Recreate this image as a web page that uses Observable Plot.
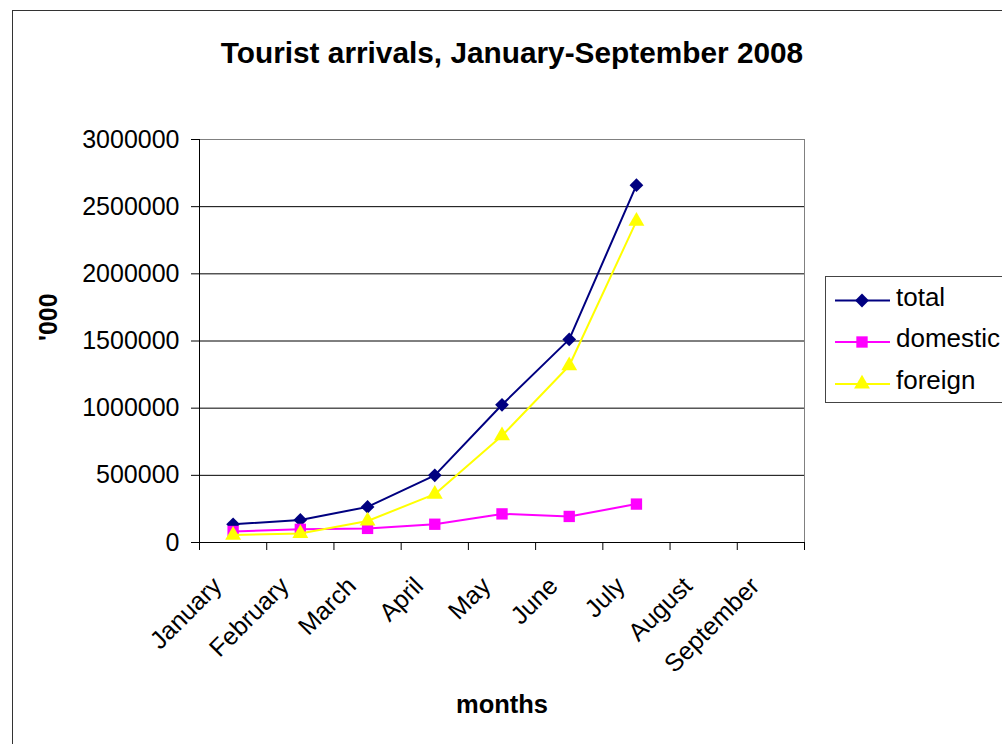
<!DOCTYPE html>
<html>
<head>
<meta charset="utf-8">
<script src="https://cdn.jsdelivr.net/npm/d3@7"></script>
<script src="https://cdn.jsdelivr.net/npm/@observablehq/plot@0.6"></script>
<style>
  html, body { margin: 0; padding: 0; background: #fff; overflow: hidden; }
  body { width: 1002px; height: 744px; position: relative; font-family: "Liberation Sans", Arial, sans-serif; }
  #frame { position: absolute; left: 12px; top: 10px; width: 1100px; height: 900px; border: 1px solid #333; box-sizing: border-box; }
  #chart { position: absolute; left: 0; top: 0; }
  #overlay { position: absolute; left: 0; top: 0; }
</style>
</head>
<body>
<div id="frame"></div>
<div id="chart"></div>
<svg id="overlay" width="1002" height="744"></svg>
<script>
// ---- data ----
const months = ["January", "February", "March", "April", "May", "June", "July", "August", "September"];
const total    = [135000, 168000, 265000, 500000, 1025000, 1512000, 2660000];
const domestic = [ 82000,  98000, 105000, 136000,  213000,  194000,  286000];
const foreign  = [ 55000,  67000, 160000, 360000,  795000, 1316000, 2392000];
const seriesNames = ["total", "domestic", "foreign"];
const seriesColors = ["#000080", "#FF00FF", "#FFFF00"];
const yTicks = [0, 500000, 1000000, 1500000, 2000000, 2500000, 3000000];
const titleText = "Tourist arrivals, January-September 2008";
const yTitle = "'000";
const xTitle = "months";

const FONT = '"Liberation Sans", Arial, sans-serif';
const seriesValues = [total, domestic, foreign];
const rows = (vals) => vals.map((v, i) => ({x: i + 0.5, y: v}));
const symbols = ["diamond2", "square", "triangle"];
const radii = [6.2, 6.4, 5.9];

const seriesMarks = [];
seriesValues.forEach((vals, k) => {
  const data = rows(vals);
  seriesMarks.push(Plot.line(data, {x: "x", y: "y", stroke: seriesColors[k], strokeWidth: 2}));
  seriesMarks.push(Plot.dot(data, {x: "x", y: "y", symbol: symbols[k], r: radii[k], fill: seriesColors[k], stroke: "none"}));
});

const chart = Plot.plot({
  width: 1002,
  height: 744,
  marginTop: 139,
  marginBottom: 202,
  marginLeft: 199,
  marginRight: 198,
  style: {background: "transparent", fontFamily: FONT, fontSize: "25px", overflow: "visible", color: "#000"},
  x: {type: "linear", domain: [0, months.length]},
  y: {domain: [0, 3000000]},
  marks: [
    Plot.ruleY(yTicks, {stroke: "#000", strokeWidth: 1}),
    Plot.frame({stroke: "#808080", strokeWidth: 1}),
    Plot.ruleX([0], {stroke: "#000", strokeWidth: 1}),
    Plot.ruleY([0], {stroke: "#000", strokeWidth: 1}),
    Plot.axisY({ticks: yTicks, tickFormat: d3.format("d"), tickSize: 8, tickPadding: 12, fontSize: 25, label: null}),
    Plot.axisX({ticks: d3.range(months.length + 1), tickSize: 8, tickFormat: () => "", label: null}),
    Plot.text(months, {x: (d, i) => i + 0.5, text: d => d, frameAnchor: "bottom", rotate: -45,
      textAnchor: "end", lineAnchor: "bottom", dy: 45, dx: -10, fontSize: 25}),
    Plot.text([yTitle], {text: d => d, frameAnchor: "left", dx: -151, rotate: -90, lineAnchor: "middle",
      fontWeight: "bold", fontSize: 25}),
    Plot.text([xTitle], {text: d => d, frameAnchor: "bottom", dy: 170, lineAnchor: "bottom",
      fontWeight: "bold", fontSize: 25.5}),
    ...seriesMarks
  ]
});
document.getElementById("chart").appendChild(chart);

// ---- title and legend overlay ----
const ov = d3.select("#overlay");
ov.append("text").attr("x", 512).attr("y", 63).attr("text-anchor", "middle")
  .attr("font-family", FONT).attr("font-weight", "bold").attr("font-size", 29.8).text(titleText);

const lg = ov.append("g");
lg.append("rect").attr("x", 825.5).attr("y", 276.5).attr("width", 220).attr("height", 126)
  .attr("fill", "#fff").attr("stroke", "#444").attr("stroke-width", 1);
const rowY = [300.5, 342, 384];
const d3sym = {diamond2: d3.symbolDiamond2, square: d3.symbolSquare, triangle: d3.symbolTriangle};
seriesNames.forEach((name, k) => {
  const y = rowY[k];
  lg.append("line").attr("x1", 835).attr("x2", 890).attr("y1", y).attr("y2", y)
    .attr("stroke", seriesColors[k]).attr("stroke-width", 2);
  const size = Math.PI * radii[k] * radii[k];
  lg.append("path").attr("d", d3.symbol(d3sym[symbols[k]], size)())
    .attr("transform", `translate(862,${y})`).attr("fill", seriesColors[k]);
  lg.append("text").attr("x", 896).attr("y", y + 5).attr("font-family", FONT)
    .attr("font-size", 26).text(name);
});
</script>
</body>
</html>
